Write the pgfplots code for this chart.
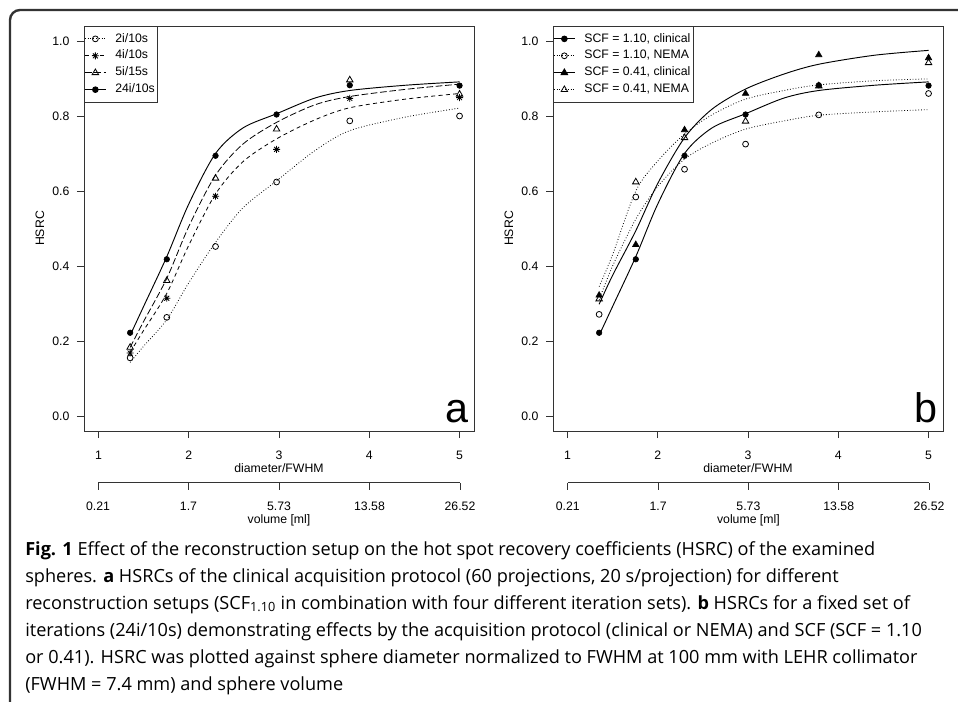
\documentclass[border=0pt]{standalone}
\usepackage{pgfplots}
\pgfplotsset{compat=1.18}
\usepackage{pgfplotstable}
\usepackage{fontspec}
\setmainfont{Liberation Sans}
\newfontfamily\capfont{Open Sans}

% R's pch 8: a plus and a cross on top of each other
\pgfdeclareplotmark{rstar}{%
  \pgfpathmoveto{\pgfqpoint{-\pgfplotmarksize}{0pt}}%
  \pgfpathlineto{\pgfqpoint{\pgfplotmarksize}{0pt}}%
  \pgfpathmoveto{\pgfqpoint{0pt}{-\pgfplotmarksize}}%
  \pgfpathlineto{\pgfqpoint{0pt}{\pgfplotmarksize}}%
  \pgfpathmoveto{\pgfqpoint{-0.707\pgfplotmarksize}{-0.707\pgfplotmarksize}}%
  \pgfpathlineto{\pgfqpoint{0.707\pgfplotmarksize}{0.707\pgfplotmarksize}}%
  \pgfpathmoveto{\pgfqpoint{-0.707\pgfplotmarksize}{0.707\pgfplotmarksize}}%
  \pgfpathlineto{\pgfqpoint{0.707\pgfplotmarksize}{-0.707\pgfplotmarksize}}%
  \pgfusepathqstroke}

% panel a: measured HSRC
\pgfplotstableread{
x     c2    c4    c5    c24
1.351 0.155 0.168 0.183 0.222
1.757 0.263 0.314 0.361 0.418
2.297 0.452 0.586 0.634 0.694
2.973 0.624 0.711 0.765 0.804
3.784 0.787 0.847 0.896 0.882
5.000 0.800 0.849 0.858 0.881
}\ptsA
% panel a: fitted curves
\pgfplotstableread{
x     f2    f4    f5    f24
1.351 0.143 0.170 0.183 0.215
1.500 0.186 0.228 0.252 0.292
1.757 0.257 0.327 0.367 0.425
2.000 0.355 0.455 0.505 0.565
2.297 0.463 0.592 0.642 0.700
2.600 0.555 0.678 0.725 0.768
2.973 0.627 0.739 0.783 0.806
3.400 0.708 0.790 0.830 0.848
3.784 0.761 0.822 0.852 0.868
4.400 0.797 0.845 0.871 0.882
5.000 0.821 0.860 0.885 0.891
}\fitA
% panel b: measured HSRC
\pgfplotstableread{
x     c110c c110n c041c c041n
1.351 0.222 0.271 0.322 0.312
1.757 0.418 0.584 0.457 0.624
2.297 0.694 0.658 0.763 0.742
2.973 0.804 0.725 0.860 0.786
3.784 0.882 0.803 0.963 0.880
5.000 0.881 0.860 0.955 0.942
}\ptsB
% panel b: fitted curves
\pgfplotstableread{
x     f110c f110n f041c f041n
1.351 0.215 0.310 0.298 0.345
1.500 0.292 0.400 0.375 0.430
1.757 0.425 0.525 0.494 0.600
2.000 0.565 0.612 0.620 0.680
2.297 0.700 0.685 0.742 0.752
2.600 0.768 0.728 0.818 0.803
2.973 0.806 0.765 0.872 0.845
3.400 0.848 0.787 0.912 0.868
3.784 0.868 0.802 0.938 0.883
4.400 0.882 0.811 0.962 0.894
5.000 0.891 0.817 0.975 0.899
}\fitB

\newcommand\rfont{\fontsize{9.2}{11}\selectfont}

\pgfplotsset{
  rpanel/.style={
    scale only axis, width=292.5pt, height=303.75pt,
    xmin=0.84, xmax=5.16, ymin=-0.04, ymax=1.04,
    xtick={1,2,3,4,5}, xticklabels={1,2,3,4,5},
    ytick={0,0.2,0.4,0.6,0.8,1}, yticklabels={0.0,0.2,0.4,0.6,0.8,1.0},
    tick pos=left, tick align=outside, major tick length=5.25pt,
    axis line style={black!80, line width=0.6pt},
    every tick/.style={black!80, line width=0.6pt},
    tick label style={font=\rfont},
    xticklabel shift=6.2pt, yticklabel shift=2.2pt,
    xlabel style={at={(rel axis cs:0.5,0)}, anchor=base, yshift=-30.75pt,
      font=\rfont},
    ylabel style={at={(axis description cs:-0.1128,0.5)}, anchor=center,
      font=\rfont},
    clip=false,
    legend cell align=left,
    legend image code/.code={\draw[mark repeat=2, mark phase=2, ##1]
      plot coordinates {(0pt,0pt) (7.875pt,0pt) (15.75pt,0pt)};},
    legend style={at={(rel axis cs:0,1)}, anchor=north west, draw=black!80,
      line width=0.6pt, font=\rfont,
      inner xsep=0pt, inner ysep=4.6pt, row sep=3.2pt, column sep=4.5pt,
      nodes={inner xsep=2.25pt, inner ysep=0.5pt, text height=6.6pt, text depth=1.9pt}},
  },
  volaxis/.style={
    scale only axis, width=271.5pt, height=1pt,
    xmin=1, xmax=5, ymin=0, ymax=1,
    axis x line=bottom, axis y line=none,
    x axis line style={-, black!80, line width=0.6pt},
    every tick/.style={black!80, line width=0.6pt},
    xtick={1,2,3,4,5}, xticklabels={0.21,1.7,5.73,13.58,26.52},
    tick align=outside, major tick length=5.25pt,
    tick label style={font=\rfont},
    xticklabel shift=5.8pt,
    xlabel={volume [ml]},
    xlabel style={at={(rel axis cs:0.5,0)}, anchor=base, yshift=-30.6pt,
      font=\rfont},
  },
  dotR/.style={dash pattern=on 0.6pt off 1.5pt, line width=0.6pt},
  dashR/.style={dash pattern=on 3pt off 2.5pt, line width=0.6pt},
  longR/.style={dash pattern=on 5pt off 2pt, line width=0.6pt},
  solidR/.style={solid, line width=0.7pt},
}

\begin{document}
\begin{tikzpicture}
\useasboundingbox (0,0) rectangle (718.5pt,525.75pt);
\draw[line width=1.8pt, black!80, rounded corners=7.5pt]
  (7.5pt,-5pt) -- (7.5pt,518.25pt) -- (730pt,518.25pt);

% ---------- panel a ----------
\begin{axis}[rpanel, at={(63pt,202.5pt)}, anchor=south west,
  xlabel={diameter/FWHM}, ylabel={HSRC}]
\addlegendimage{black, dotR, mark=o, mark size=2.2pt, mark options={solid}}
\addlegendimage{black, dashR, mark=rstar, mark size=2.6pt, mark options={solid}}
\addlegendimage{black, longR, mark=triangle, mark size=2.8pt, mark options={solid}}
\addlegendimage{black, solidR, mark=*, mark size=2.1pt}
\legend{2i/10s, 4i/10s, 5i/15s, 24i/10s}
\addplot[forget plot, black, dotR, smooth] table[x=x, y=f2] {\fitA};
\addplot[forget plot, black, dashR, smooth] table[x=x, y=f4] {\fitA};
\addplot[forget plot, black, longR, smooth] table[x=x, y=f5] {\fitA};
\addplot[forget plot, black, solidR, smooth] table[x=x, y=f24] {\fitA};
\addplot[forget plot, only marks, mark=o, mark size=2.2pt, line width=0.6pt] table[x=x, y=c2] {\ptsA};
\addplot[forget plot, only marks, mark=rstar, mark size=2.6pt, line width=0.6pt] table[x=x, y=c4] {\ptsA};
\addplot[forget plot, only marks, mark=triangle, mark size=2.8pt, line width=0.6pt] table[x=x, y=c5] {\ptsA};
\addplot[forget plot, only marks, mark=*, mark size=2.1pt] table[x=x, y=c24] {\ptsA};
\node[anchor=base east, inner sep=0pt, font=\fontsize{31}{31}\selectfont,
  xshift=-4pt, yshift=6.75pt] at (rel axis cs:1,0) {a};
\end{axis}
\begin{axis}[volaxis, at={(73.5pt,163.7pt)}, anchor=south west]
\end{axis}

% ---------- panel b ----------
\begin{axis}[rpanel, at={(414.75pt,202.5pt)}, anchor=south west,
  xlabel={diameter/FWHM}, ylabel={HSRC}]
\addlegendimage{black, solidR, mark=*, mark size=2.1pt}
\addlegendimage{black, dotR, mark=o, mark size=2.2pt, mark options={solid}}
\addlegendimage{black, solidR, mark=triangle*, mark size=2.8pt}
\addlegendimage{black, dotR, mark=triangle, mark size=2.8pt, mark options={solid}}
\legend{{SCF = 1.10, clinical}, {SCF = 1.10, NEMA}, {SCF = 0.41, clinical}, {SCF = 0.41, NEMA}}
\addplot[forget plot, black, solidR, smooth] table[x=x, y=f110c] {\fitB};
\addplot[forget plot, black, dotR, smooth] table[x=x, y=f110n] {\fitB};
\addplot[forget plot, black, solidR, smooth] table[x=x, y=f041c] {\fitB};
\addplot[forget plot, black, dotR, smooth] table[x=x, y=f041n] {\fitB};
\addplot[forget plot, only marks, mark=*, mark size=2.1pt] table[x=x, y=c110c] {\ptsB};
\addplot[forget plot, only marks, mark=o, mark size=2.2pt, line width=0.6pt] table[x=x, y=c110n] {\ptsB};
\addplot[forget plot, only marks, mark=triangle*, mark size=2.8pt] table[x=x, y=c041c] {\ptsB};
\addplot[forget plot, only marks, mark=triangle, mark size=2.8pt, line width=0.6pt] table[x=x, y=c041n] {\ptsB};
\node[anchor=base east, inner sep=0pt, font=\fontsize{31}{31}\selectfont,
  xshift=-3.75pt, yshift=6.75pt] at (rel axis cs:1,0) {b};
\end{axis}
\begin{axis}[volaxis, at={(425.8pt,163.7pt)}, anchor=south west, width=271pt]
\end{axis}

% ---------- caption ----------
\begin{scope}[every node/.style={anchor=base west, inner sep=0pt,
    font=\capfont\fontsize{13.6}{16}\selectfont}]
\node at (18.75pt,109.5pt) {\textbf{Fig. 1} Effect of the reconstruction setup on the hot spot recovery coefficients (HSRC) of the examined};
\node at (18.75pt,89.25pt) {spheres. \textbf{a} HSRCs of the clinical acquisition protocol (60 projections, 20 s/projection) for different};
\node at (18.75pt,69pt) {reconstruction setups (SCF\textsubscript{1.10} in combination with four different iteration sets). \textbf{b} HSRCs for a fixed set of};
\node at (18.75pt,48.75pt) {iterations (24i/10s) demonstrating effects by the acquisition protocol (clinical or NEMA) and SCF (SCF = 1.10};
\node at (18.75pt,28.5pt) {or 0.41). HSRC was plotted against sphere diameter normalized to FWHM at 100 mm with LEHR collimator};
\node at (18.75pt,8.25pt) {(FWHM = 7.4 mm) and sphere volume};
\end{scope}
\end{tikzpicture}
\end{document}
